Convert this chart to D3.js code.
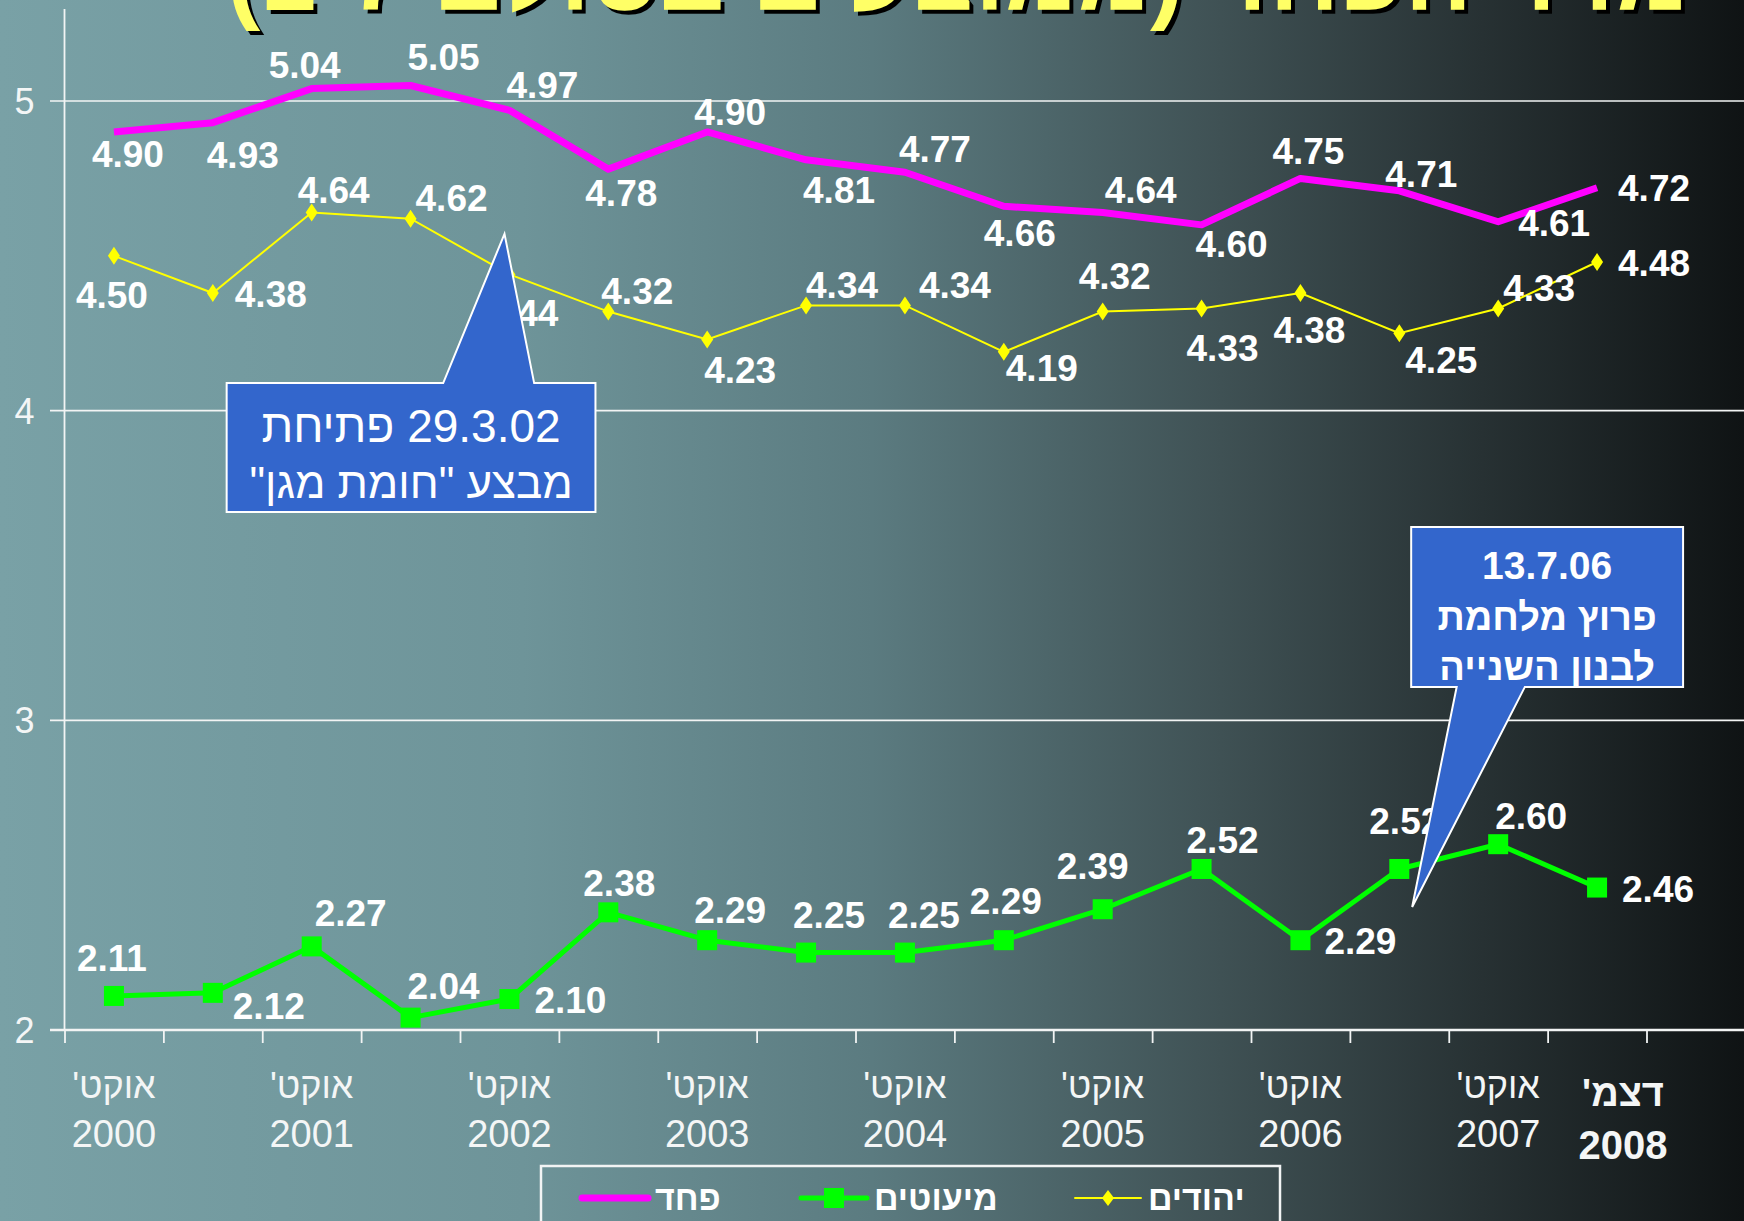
<!DOCTYPE html>
<html>
<head>
<meta charset="utf-8">
<script src="https://cdn.jsdelivr.net/npm/d3@7"></script>
<style>
  html, body { margin: 0; padding: 0; overflow: hidden; background: #111; }
  svg { display: block; font-family: "Liberation Sans", Arial, Helvetica, sans-serif; }
</style>
</head>
<body>
<div id="chart"></div>
<script>
// half-year survey points, Oct 2000 .. Dec 2008
const periods = ["אוקט' 2000", "", "אוקט' 2001", "", "אוקט' 2002", "", "אוקט' 2003", "",
                 "אוקט' 2004", "", "אוקט' 2005", "", "אוקט' 2006", "", "אוקט' 2007", "דצמ' 2008"];

const fearTotal = [4.90, 4.93, 5.04, 5.05, 4.97, 4.78, 4.90, 4.81, 4.77, 4.66, 4.64, 4.60, 4.75, 4.71, 4.61, 4.72];
const minorities = [2.11, 2.12, 2.27, 2.04, 2.10, 2.38, 2.29, 2.25, 2.25, 2.29, 2.39, 2.52, 2.29, 2.52, 2.60, 2.46];
const jews = [4.50, 4.38, 4.64, 4.62, 4.44, 4.32, 4.23, 4.34, 4.34, 4.19, 4.32, 4.33, 4.38, 4.25, 4.33, 4.48];

const yTicks = [2, 3, 4, 5];

// where each value label sits relative to its point (px)
const fearLabelPos = [[14,22],[30,32],[-7,-24],[33,-29],[33,-26],[13,24],[23,-20],[33,30],
                      [30,-24],[16,26],[38,-23],[30,19],[8,-28],[22,-17],[56,1],[57,0]];
const jewsLabelPos = [[-2,39],[58,1],[22,-23],[41,-21],[13,38],[29,-21],[33,30],[36,-21],
                      [50,-21],[38,16],[12,-36],[21,39],[9,37],[42,26],[41,-21],[57,1]];
const minLabelPos = [[-2,-38],[56,13],[39,-34],[33,-32],[61,1],[11,-30],[23,-31],[23,-38],
                     [19,-38],[2,-40],[-10,-44],[21,-29],[60,0],[6,-48],[33,-29],[61,1]];

const W = 1744, H = 1221;

const svg = d3.select("#chart").append("svg")
    .attr("width", W)
    .attr("height", H);

// background gradient
const defs = svg.append("defs");
const grad = defs.append("linearGradient").attr("id", "bg").attr("x1", 0).attr("x2", 1).attr("y1", 0).attr("y2", 0);
[["0%", "#79a1a6"], ["30%", "#6e9499"], ["50%", "#5b7b80"], ["70%", "#3f5154"], ["85%", "#273133"], ["100%", "#0f1314"]]
    .forEach(s => grad.append("stop").attr("offset", s[0]).attr("stop-color", s[1]));

svg.append("rect").attr("width", W).attr("height", H).attr("fill", "url(#bg)");

// scales
const x = d3.scaleLinear().domain([-0.5, 15.5]).range([64.5, 1646.5]);
const y = d3.scaleLinear().domain([2, 5]).range([1030, 101]);

// gridlines
svg.append("g")
    .selectAll("line")
    .data(yTicks)
    .enter()
    .append("line")
        .attr("x1", 50)
        .attr("x2", W)
        .attr("y1", d => y(d))
        .attr("y2", d => y(d))
        .attr("stroke", "#f2f4f4")
        .attr("stroke-width", d => d === 2 ? 2.5 : 1.6);

// y axis
const yAxis = svg.append("g")
    .attr("transform", `translate(${x(-0.5)},0)`)
    .call(d3.axisLeft(y).tickValues(yTicks).tickSize(0).tickPadding(30).tickFormat(d3.format("d")));
yAxis.select(".domain").remove();
yAxis.selectAll("text")
    .attr("fill", "#f4f6f6")
    .style("font-size", "36px")
    .attr("dy", "0.35em");

svg.append("line")
    .attr("x1", x(-0.5)).attr("x2", x(-0.5))
    .attr("y1", 9).attr("y2", y(2))
    .attr("stroke", "#f2f4f4").attr("stroke-width", 1.8);

// x axis ticks between periods
const xAxis = svg.append("g")
    .attr("transform", `translate(0,${y(2)})`)
    .call(d3.axisBottom(x).tickValues(d3.range(-0.5, 16, 1)).tickSize(13).tickFormat(""));
xAxis.select(".domain").remove();
xAxis.selectAll("line").attr("stroke", "#f2f4f4").attr("stroke-width", 1.8);

// x labels
const xl = svg.append("g");
periods.forEach((p, i) => {
    if (!p) return;
    const parts = p.split(" ");
    const last = i === periods.length - 1;
    const cx = x(i) + (last ? 26 : 0);
    xl.append("text")
        .attr("x", cx).attr("y", last ? 1106 : 1098)
        .attr("direction", "rtl")
        .attr("text-anchor", "middle")
        .attr("fill", "#f4f6f6")
        .style("font-size", last ? "38px" : "36px")
        .style("font-weight", last ? "bold" : "normal")
        .text(parts[0]);
    xl.append("text")
        .attr("x", cx).attr("y", last ? 1159 : 1147)
        .attr("text-anchor", "middle")
        .attr("fill", "#f4f6f6")
        .style("font-size", last ? "40px" : "38px")
        .style("font-weight", last ? "bold" : "normal")
        .text(parts[1]);
});

const line = d3.line().x((d, i) => x(i)).y(d => y(d));

// lines
svg.append("path").datum(jews)
    .attr("fill", "none").attr("stroke", "#ffff00").attr("stroke-width", 2).attr("d", line);
svg.append("path").datum(minorities)
    .attr("fill", "none").attr("stroke", "#00ff00").attr("stroke-width", 5).attr("stroke-linejoin", "round").attr("d", line);
svg.append("path").datum(fearTotal)
    .attr("fill", "none").attr("stroke", "#ff00ff").attr("stroke-width", 7).attr("stroke-linejoin", "round").attr("d", line);

// markers
svg.append("g").selectAll("path")
    .data(jews).enter().append("path")
        .attr("transform", (d, i) => `translate(${x(i)},${y(d)})`)
        .attr("d", "M0,-9L6,0L0,9L-6,0Z")
        .attr("fill", "#ffff00");

svg.append("g").selectAll("rect")
    .data(minorities).enter().append("rect")
        .attr("x", (d, i) => x(i) - 10)
        .attr("y", d => y(d) - 10)
        .attr("width", 20).attr("height", 20)
        .attr("fill", "#00ff00");

// value labels
function labels(data, pos) {
    svg.append("g").selectAll("text")
        .data(data).enter().append("text")
            .attr("x", (d, i) => x(i) + pos[i][0])
            .attr("y", (d, i) => y(d) + pos[i][1])
            .attr("dy", "0.36em")
            .attr("text-anchor", "middle")
            .attr("fill", "#ffffff")
            .style("font-size", "37px")
            .style("font-weight", "bold")
            .text(d => d.toFixed(2));
}
labels(fearTotal, fearLabelPos);
labels(jews, jewsLabelPos);
labels(minorities, minLabelPos);

// callouts, placed in data space: box [i0,i1] x [v0,v1], pointer base [b0,b1], tip [ti,tv]
function callout(c) {
    const L = x(c.i0), R = x(c.i1), T = y(c.v1), B = y(c.v0);
    const tx = x(c.ti), ty = y(c.tv);
    let pts;
    if (c.side === "top") {
        pts = [[L,T],[x(c.b0),T],[tx,ty],[x(c.b1),T],[R,T],[R,B],[L,B]];
    } else {
        pts = [[L,T],[R,T],[R,B],[x(c.b1),B],[tx,ty],[x(c.b0),B],[L,B]];
    }
    svg.append("path")
        .attr("d", d3.line()(pts) + "Z")
        .attr("fill", "#3366cc")
        .attr("stroke", "#ffffff")
        .attr("stroke-width", 2);
    c.lines.forEach((t, k) => {
        svg.append("text")
            .attr("x", (L + R) / 2 + (c.shift ? c.shift[k] : 0))
            .attr("y", c.base[k])
            .attr("direction", "rtl")
            .attr("text-anchor", "middle")
            .attr("fill", "#ffffff")
            .style("font-size", c.size[k] + "px")
            .style("font-weight", c.weight)
            .text(t);
    });
}

callout({ i0: 1.14, i1: 4.87, v0: 3.673, v1: 4.089, b0: 3.33, b1: 4.25, ti: 3.95, tv: 4.571, side: "top",
          lines: ["29.3.02 פתיחת", "מבצע \"חומת מגן\""], base: [442, 498], size: [46, 44], shift: [0, 0],
          weight: "normal" });
callout({ i0: 13.12, i1: 15.87, v0: 3.108, v1: 3.624, b0: 13.58, b1: 14.27, ti: 13.13, tv: 2.397, side: "bottom",
          lines: ["13.7.06", "פרוץ מלחמת", "לבנון השנייה"], base: [579, 630, 680], size: [39, 38, 38],
          weight: "bold" });

// legend
const lg = svg.append("g");
lg.append("rect")
    .attr("x", 541).attr("y", 1166).attr("width", 739).attr("height", 80)
    .attr("fill", "none").attr("stroke", "#f2f4f4").attr("stroke-width", 2.5);
const legendItems = [
    { name: "פחד", color: "#ff00ff", x0: 582, width: 7, marker: null },
    { name: "מיעוטים", color: "#00ff00", x0: 801, width: 5, marker: "square" },
    { name: "יהודים", color: "#ffff00", x0: 1075, width: 2, marker: "diamond" }
];
legendItems.forEach(it => {
    const ly = 1198;
    lg.append("line")
        .attr("x1", it.x0).attr("x2", it.x0 + 66)
        .attr("y1", ly).attr("y2", ly)
        .attr("stroke", it.color).attr("stroke-width", it.width).attr("stroke-linecap", "round");
    if (it.marker === "square") {
        lg.append("rect").attr("x", it.x0 + 23).attr("y", ly - 10).attr("width", 20).attr("height", 20).attr("fill", it.color);
    } else if (it.marker === "diamond") {
        lg.append("path").attr("transform", `translate(${it.x0 + 33},${ly})`)
            .attr("d", "M0,-8L6,0L0,8L-6,0Z").attr("fill", it.color);
    }
    lg.append("text")
        .attr("x", it.x0 + 73).attr("y", ly + 12)
        .attr("direction", "rtl")
        .attr("text-anchor", "end")
        .attr("fill", "#ffffff")
        .style("font-size", "34px")
        .style("font-weight", "bold")
        .text(it.name);
});

// title (cut off at top of slide)
const title = "מדד הפחד (ממוצעים בסולם 1-7)";
svg.append("text")
    .attr("x", 962).attr("y", 14)
    .attr("direction", "rtl")
    .attr("text-anchor", "middle")
    .attr("fill", "#000000")
    .style("font-size", "100px")
    .style("font-weight", "bold")
    .text(title);
svg.append("text")
    .attr("x", 958).attr("y", 10)
    .attr("direction", "rtl")
    .attr("text-anchor", "middle")
    .attr("fill", "#ffff66")
    .style("font-size", "100px")
    .style("font-weight", "bold")
    .text(title);
</script>
</body>
</html>
